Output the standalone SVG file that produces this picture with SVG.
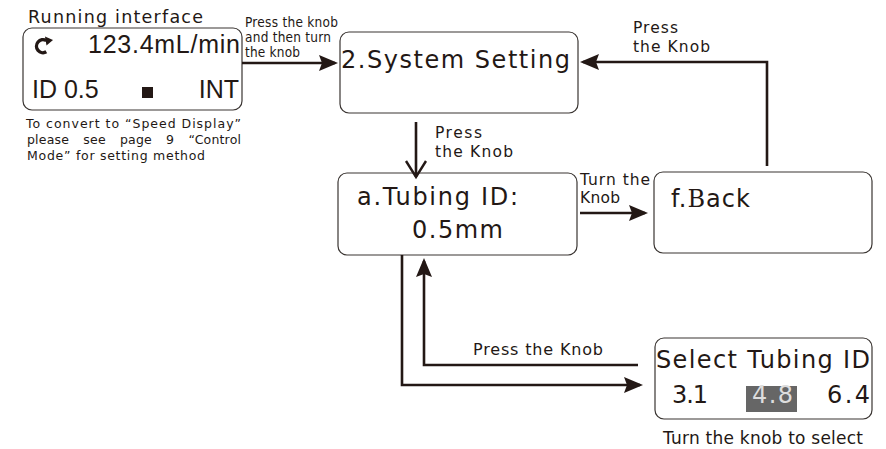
<svg xmlns="http://www.w3.org/2000/svg" width="886" height="449" viewBox="0 0 886 449">
<style>
.box{fill:#fff;stroke:#3a3532;stroke-width:1.2}
.con{fill:none;stroke:#231815;stroke-width:2.6}
.lbl{font-family:"DejaVu Sans","Liberation Sans",sans-serif;fill:#231815}
.big{font-family:"DejaVu Sans","Liberation Sans",sans-serif;fill:#231815;font-size:24px}
.lcd{font-family:"Liberation Sans",Arial,sans-serif;fill:#231815;font-size:25px}
.cond{font-family:"DejaVu Sans Condensed","DejaVu Sans",sans-serif;fill:#231815;font-size:13.5px}
.cap{font-family:"DejaVu Sans","Liberation Sans",sans-serif;fill:#231815;font-size:12.5px}
</style>
<defs>
<marker id="ah" markerUnits="userSpaceOnUse" markerWidth="22" markerHeight="16" refX="16" refY="8" orient="auto" overflow="visible">
<path d="M0,0 L19,8 L0,16 L3,8 z" fill="#231815"/>
</marker>
<marker id="av" markerUnits="userSpaceOnUse" markerWidth="20" markerHeight="24" refX="16" refY="10" orient="auto" overflow="visible">
<path d="M0,0 L16,10 L0,20" fill="none" stroke="#231815" stroke-width="2.4"/>
</marker>
</defs>
<rect width="886" height="449" fill="#fff"/>

<g id="running">
<text class="lbl" x="28" y="23" font-size="17.5" textLength="175">Running interface</text>
<rect class="box" x="23" y="28" width="219" height="82" rx="9"/>
<path d="M46.3,40.6 A6.5,6.5 0 1 0 46.3,51.8" fill="none" stroke="#231815" stroke-width="3.4"/>
<path d="M45,36.5 L53,40 L46.5,45.5 z" fill="#231815"/>
<text class="lcd" x="88" y="53" textLength="152">123.4mL/min</text>
<text class="lcd" x="32" y="98">ID 0.5</text>
<rect x="142" y="87" width="11" height="11" fill="#231815"/>
<text class="lcd" x="239" y="98" text-anchor="end">INT</text>
<text class="cap" x="26" y="128" textLength="215">To convert to “Speed Display”</text>
<text class="cap" x="27" y="144" textLength="214" word-spacing="10">please see page 9 “Control</text>
<text class="cap" x="27" y="160" textLength="178">Mode” for setting method</text>
</g>

<g id="system">
<rect class="box" x="340" y="32" width="238" height="81" rx="9"/>
<text class="big" x="341" y="68" font-size="26" textLength="229">2.System Setting</text>
</g>

<g id="tubing">
<rect class="box" x="338" y="173" width="239" height="82" rx="9"/>
<text class="big" x="357" y="205" textLength="161">a.Tubing ID:</text>
<text class="big" x="412" y="238" textLength="91">0.5mm</text>
</g>

<g id="back">
<rect class="box" x="654" y="172" width="218" height="81" rx="9"/>
<text class="big" x="671" y="207" textLength="79">f.<tspan font-family="'DejaVu Serif','Liberation Serif',serif">B</tspan>ack</text>
</g>

<g id="select">
<rect class="box" x="655" y="338" width="217" height="81" rx="9"/>
<text class="big" x="656" y="368" font-size="25" textLength="214">Select Tubing ID</text>
<text class="big" x="672" y="403" font-size="22" textLength="36">3.1</text>
<rect x="746" y="386" width="51" height="26" fill="#666"/>
<text class="big" x="752" y="403" font-size="22" textLength="41" style="fill:#ddd">4.8</text>
<text class="big" x="827" y="403" font-size="22" textLength="43">6.4</text>
<text class="lbl" x="663" y="444" font-size="17" textLength="200">Turn the knob to select</text>
</g>

<g id="connectors">
<path class="con" d="M242,63 H335" marker-end="url(#ah)"/>
<path class="con" d="M767,166 V62 H583" marker-end="url(#ah)"/>
<path class="con" d="M416,122 V177" marker-end="url(#av)"/>
<path class="con" d="M580,213 H645" marker-end="url(#ah)"/>
<path class="con" d="M402,255 V385 H640" marker-end="url(#ah)"/>
<path class="con" d="M638,365 H424 V261" marker-end="url(#ah)"/>
<text class="cond" x="245" y="27" textLength="93">Press the knob</text>
<text class="cond" x="245" y="42" textLength="86">and then turn</text>
<text class="cond" x="245" y="57" textLength="55">the knob</text>
<text class="lbl" x="435" y="138" font-size="15.5" textLength="47">Press</text>
<text class="lbl" x="435" y="157" font-size="15.5" textLength="78">the Knob</text>
<text class="lbl" x="633" y="33" font-size="15.5" textLength="45">Press</text>
<text class="lbl" x="633" y="52" font-size="15.5" textLength="77">the Knob</text>
<text class="lbl" x="580" y="185" font-size="15.5" textLength="70">Turn the</text>
<text class="lbl" x="580" y="203" font-size="15.5" textLength="40">Knob</text>
<text class="lbl" x="473" y="355" font-size="16" textLength="130">Press the Knob</text>
</g>
</svg>
